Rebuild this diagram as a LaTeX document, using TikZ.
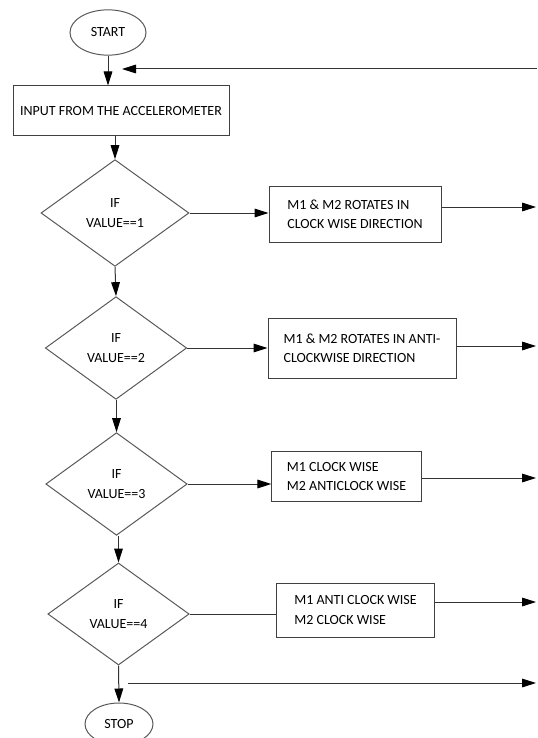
\documentclass[tikz,border=0pt]{standalone}
\usepackage{fontspec}
\setmainfont{Carlito}
\usetikzlibrary{shapes.geometric,arrows.meta}

\begin{document}
\begin{tikzpicture}[x=0.75pt,y=0.75pt,yscale=-1,xscale=1,
  every node/.style={font=\fontsize{10.5}{14.6}\selectfont, text=black},
  line/.style={draw=black!80, line width=0.75pt},
  flow/.style={line, -{Triangle[length=10.5pt,width=6.5pt,color=black,fill=black]}},
  terminal/.style={ellipse, draw=black!65, line width=0.75pt, inner sep=0pt},
  process/.style={rectangle, draw=black!75, line width=0.75pt, align=left, inner sep=0pt},
  decision/.style={diamond, draw=black!65, line width=0.75pt, align=center, inner sep=0pt, minimum width=106pt, minimum height=77pt}]
\useasboundingbox (0,0) rectangle (537,738);

%Shape: Ellipse
\node [terminal, minimum width=57pt, minimum height=34pt] (start) at (108,32.5) {START};
%Shape: Rectangle
\node [process, minimum width=162pt, minimum height=37.5pt] (input) at (121,111) {INPUT FROM THE ACCELEROMETER};

%Shape: Diamond
\node [decision, minimum width=111pt, minimum height=80pt] (dec1) at (115,213) {IF\\VALUE==1};
\node [decision] (dec2) at (116,348) {IF\\VALUE==2};
\node [decision] (dec3) at (116.5,484) {IF\\VALUE==3};
\node [decision, minimum height=76.5pt] (dec4) at (118.5,614) {IF\\VALUE==4};

%Shape: Rectangle
\node [process, minimum width=129pt, minimum height=42pt] (act1) at (355,214) {M1 \& M2 ROTATES IN\\CLOCK WISE DIRECTION};
\node [process, minimum width=141pt, minimum height=45pt] (act2) at (362,348) {M1 \& M2 ROTATES IN ANTI-\\CLOCKWISE DIRECTION};
\node [process, minimum width=112pt, minimum height=38pt] (act3) at (346.5,476.5) {M1 CLOCK WISE\\M2 ANTICLOCK WISE};
\node [process, minimum width=118pt, minimum height=40.5pt] (act4) at (355.5,610) {M1 ANTI CLOCK WISE\\M2 CLOCK WISE};

%Shape: Ellipse
\node [terminal, minimum width=51pt, minimum height=31.5pt] (stop) at (119,724) {STOP};

% free ends
\coordinate (loopR) at (537,69);
\coordinate (loopL) at (122,69);
\coordinate (out1) at (536,207);
\coordinate (out2) at (536,346);
\coordinate (out3) at (536,478);
\coordinate (out4) at (536,602);
\coordinate (endL) at (128,683);
\coordinate (endR) at (536,683);

%Straight Lines
\draw [flow] (start.south) -- (start.south |- input.north);
\draw [flow] (loopR) -- (loopL);
\draw [flow] (dec1.north |- input.south) -- (dec1.north);
\draw [flow] (dec1.south) -- (dec2.north);
\draw [flow] (dec3.north |- dec2.south) -- (dec3.north);
\draw [flow] (dec4.north |- dec3.south) -- (dec4.north);
\draw [flow] (dec4.south) -- (stop.north);

\draw [flow] (dec1.east) -- (dec1.east -| act1.west);
\draw [flow] (dec2.east) -- (dec2.east -| act2.west);
\draw [flow] (dec3.east) -- (dec3.east -| act3.west);
\draw [line] (dec4.east) -- (dec4.east -| act4.west);

\draw [flow] (act1.east |- out1) -- (out1);
\draw [flow] (act2.east |- out2) -- (out2);
\draw [flow] (act3.east |- out3) -- (out3);
\draw [flow] (act4.east |- out4) -- (out4);
\draw [flow] (endL) -- (endR);

\end{tikzpicture}
\end{document}
